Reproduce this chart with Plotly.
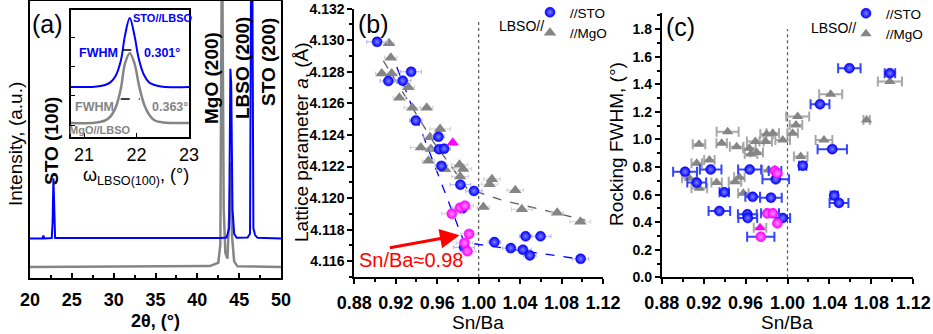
import plotly.graph_objects as go

W, H = 933, 334
def PX(x): return x / W
def PY(y): return 1 - y / H

FONT = "Liberation Sans, Arial, sans-serif"
BLUE = "#0000ff"
GRAY = "#858585"
MAG = "#ff00ff"

# ---------------- panel (a): XRD 2theta scans ----------------
xrd_sto_2theta = [20, 21.5, 21.6, 21.7, 22.6, 22.7, 22.8, 22.9, 23.0, 42.8, 43.5, 43.8, 43.95, 44.05,
                  44.2, 44.4, 44.7, 46.0, 46.3, 46.45, 46.55, 46.7, 46.9, 47.2, 50]
xrd_sto_int = [14.3, 14.3, 15.3, 14.3, 14.4, 20, 36, 18, 14.4, 14.4, 14.6, 18, 75.5, 70,
               25, 16, 14.5, 14.6, 16, 130, 130, 18, 15.5, 14.5, 14.3]
xrd_mgo_2theta = [20, 41.5, 42.5, 42.75, 42.95, 43.15, 43.35, 43.6, 43.85, 44.0, 44.15, 44.4, 44.8, 50]
xrd_mgo_int = [4, 4.3, 5.5, 12, 130, 25, 9, 7, 25, 41.7, 15, 6, 4.2, 4]

# inset: rocking curves
rock_omega_sto = [20.75, 21.2, 21.4, 21.5, 21.6, 21.7, 21.78, 21.87, 21.96, 22.04, 22.14, 22.24, 22.34, 22.5, 23.0]
rock_int_sto = [39.4, 39.6, 41, 43, 48, 60, 80, 93.7, 80, 62, 49, 43, 41, 39.6, 39.4]
rock_omega_mgo = [20.75, 21.2, 21.4, 21.5, 21.6, 21.7, 21.78, 21.87, 21.96, 22.05, 22.15, 22.25, 22.35, 22.5, 23.0]
rock_int_mgo = [11, 11.3, 13, 16, 23, 38, 58, 66, 58, 40, 25, 17, 13, 11.5, 11]
rock_center = 21.88
fwhm_sto, fwhm_mgo = 0.301, 0.363
fwhm_level_sto, fwhm_level_mgo = 68.5, 30

# ---------------- panel (b): lattice parameter ----------------
lat_sto_x = [0.902, 0.9348, 0.9129, 0.9267, 0.9393, 0.9612, 0.9618, 0.9667, 0.9641, 0.9824, 0.9955,
             0.9844, 0.986, 1.0152, 1.0310, 1.0427, 1.0453, 1.0494, 1.0597, 1.0984]
lat_sto_y = [4.1299, 4.1280, 4.12742, 4.12744, 4.12491, 4.12389, 4.12310, 4.12313, 4.12204, 4.12085, 4.12045,
             4.11935, 4.11688, 4.11721, 4.11683, 4.11673, 4.11758, 4.11637, 4.11758, 4.11615]
lat_sto_err = [0.01, 0.01, 0.008, 0.008, 0.006, 0.006, 0.008, 0.006, 0.006, 0.01, 0.008,
               0.008, 0.01, 0.006, 0.008, 0.008, 0.006, 0.006, 0.01, 0.008]
lat_mag_x = [0.9741, 0.9821, 0.9867, 0.9908, 0.9863, 0.9892]
lat_mag_y = [4.11901, 4.11939, 4.11952, 4.11773, 4.11716, 4.11663]
lat_mag_err = [0.01, 0.008, 0.008, 0.008, 0.008, 0.008]
lat_magtri_x = [0.975]
lat_magtri_y = [4.1235]
lat_mgo_x = [0.9135, 0.9152, 0.9065, 0.9161, 0.9322, 0.9235, 0.9360, 0.9499, 0.9628, 0.9531, 0.9442, 0.9538,
             0.9515, 0.9676, 0.9815, 0.9821, 0.9850, 1.0128, 1.0105, 1.0353, 1.0046, 1.0417, 1.0758, 1.0981]
lat_mgo_y = [4.12981, 4.12890, 4.12789, 4.12789, 4.12703, 4.12636, 4.12572, 4.12572, 4.12438, 4.12385, 4.12321, 4.12311,
             4.12236, 4.12183, 4.12211, 4.12137, 4.12185, 4.12120, 4.12088, 4.12050, 4.11943, 4.11929, 4.11907, 4.11850]
lat_mgo_err = [0.005, 0.006, 0.006, 0.006, 0.006, 0.006, 0.008, 0.006, 0.01, 0.006, 0.01, 0.008,
               0.006, 0.008, 0.008, 0.008, 0.008, 0.008, 0.008, 0.008, 0.006, 0.01, 0.006, 0.01]
fit_sto_x = [0.921, 0.986, 1.1013]
fit_sto_y = [4.1283, 4.1172, 4.1161]
fit_mgo_x = [0.908, 0.956, 0.989, 1.021, 1.103]
fit_mgo_y = [4.1287, 4.1236, 4.1206, 4.1199, 4.1186]
stoich = 1.00

# ---------------- panel (c): rocking FWHM ----------------
rc_sto_x = [0.9023, 0.9134, 0.9267, 0.9397, 0.9350, 0.9639, 0.9668, 0.9617, 0.9621, 0.9842, 0.9888,
            0.9955, 1.0145, 1.0310, 1.0427, 1.0446, 1.0491, 1.0590, 1.0977]
rc_sto_y = [0.766, 0.687, 0.782, 0.617, 0.481, 0.782, 0.584, 0.457, 0.430, 0.578, 0.711,
            0.430, 0.810, 1.256, 0.930, 0.593, 0.540, 1.517, 1.481]
rc_sto_err = [0.0114, 0.009, 0.0103, 0.0045, 0.0103, 0.011, 0.007, 0.009, 0.009, 0.0103, 0.0127,
              0.007, 0.0035, 0.009, 0.014, 0.0035, 0.009, 0.0107, 0.005]
rc_mag_x = [0.9881, 0.9903, 0.9808, 0.9859, 0.9903, 0.9745]
rc_mag_y = [0.771, 0.755, 0.464, 0.464, 0.392, 0.295]
rc_mag_err = [0.006, 0.0, 0.006, 0.006, 0.0, 0.013]
rc_magtri_x = [0.9738]
rc_magtri_y = [0.36]
rc_mgo_x = [0.9156, 0.9134, 0.9064, 0.9159, 0.9255, 0.9324, 0.9372, 0.9429, 0.9499, 0.9515, 0.9541, 0.9579,
            0.9636, 0.9652, 0.9693, 0.9706, 0.9792, 0.9801, 0.9820, 0.9859, 0.9954, 1.0049, 1.0081, 1.0097,
            1.0126, 1.0348, 1.0412, 1.0755, 1.0977]
rc_mgo_y = [0.965, 0.827, 0.719, 0.646, 0.852, 0.687, 0.973, 1.057, 0.694, 0.948, 0.726, 0.610,
            0.936, 0.895, 0.985, 0.905, 0.985, 1.040, 0.779, 1.045, 0.997, 1.045, 1.106, 1.166,
            0.876, 0.997, 1.328, 1.142, 1.420]
rc_mgo_err = [0.006, 0.005, 0.007, 0.0075, 0.005, 0.005, 0.005, 0.0105, 0.006, 0.0065, 0.005, 0.005,
              0.006, 0.006, 0.008, 0.006, 0.006, 0.006, 0.006, 0.006, 0.007, 0.005, 0.006, 0.011,
              0.0065, 0.008, 0.011, 0.003, 0.0115]

fig = go.Figure()

# ---- panel (a)
fig.add_trace(go.Scatter(x=xrd_mgo_2theta, y=xrd_mgo_int, mode="lines", line=dict(color=GRAY, width=2.5),
                         xaxis="x", yaxis="y", showlegend=False))
fig.add_trace(go.Scatter(x=xrd_sto_2theta, y=xrd_sto_int, mode="lines", line=dict(color=BLUE, width=2),
                         xaxis="x", yaxis="y", showlegend=False))
# inset
fig.add_trace(go.Scatter(x=rock_omega_mgo, y=rock_int_mgo, mode="lines", line=dict(color=GRAY, width=2.5, shape="spline"),
                         xaxis="x4", yaxis="y4", showlegend=False))
fig.add_trace(go.Scatter(x=rock_omega_sto, y=rock_int_sto, mode="lines", line=dict(color=BLUE, width=2, shape="spline"),
                         xaxis="x4", yaxis="y4", showlegend=False))
fig.add_trace(go.Scatter(x=[rock_center - fwhm_sto / 2, rock_center + fwhm_sto / 2], y=[fwhm_level_sto] * 2,
                         mode="lines", line=dict(color="black", width=1.5, dash="dash"),
                         xaxis="x4", yaxis="y4", showlegend=False))
fig.add_trace(go.Scatter(x=[rock_center - fwhm_mgo / 2, rock_center + fwhm_mgo / 2], y=[fwhm_level_mgo] * 2,
                         mode="lines", line=dict(color="black", width=1.5, dash="dash"),
                         xaxis="x4", yaxis="y4", showlegend=False))

sphere = lambda c, hc, s: dict(color=c, size=s, gradient=dict(type="radial", color=hc), line=dict(width=0.5, color=c))
tri = lambda c, s: dict(color=c, size=s, symbol="triangle-up", line=dict(width=0))

# ---- panel (b)
fig.add_trace(go.Scatter(x=fit_mgo_x, y=fit_mgo_y, mode="lines", line=dict(color="#606060", width=1.3, dash="dash"),
                         xaxis="x2", yaxis="y2", showlegend=False))
fig.add_trace(go.Scatter(x=fit_sto_x, y=fit_sto_y, mode="lines", line=dict(color=BLUE, width=1.3, dash="dash"),
                         xaxis="x2", yaxis="y2", showlegend=False))
fig.add_trace(go.Scatter(x=lat_mgo_x, y=lat_mgo_y, mode="markers", marker=tri(GRAY, 11),
                         error_x=dict(type="data", array=lat_mgo_err, color="#d0d0d0", thickness=1, width=2),
                         xaxis="x2", yaxis="y2", name="//MgO", legend="legend", legendrank=2))
fig.add_trace(go.Scatter(x=lat_sto_x, y=lat_sto_y, mode="markers", marker=sphere(BLUE, "#8080ff", 10),
                         error_x=dict(type="data", array=lat_sto_err, color="#b0b0f0", thickness=1, width=2),
                         xaxis="x2", yaxis="y2", name="//STO", legend="legend", legendrank=1))
fig.add_trace(go.Scatter(x=lat_mag_x, y=lat_mag_y, mode="markers", marker=sphere(MAG, "#ff90ff", 10),
                         error_x=dict(type="data", array=lat_mag_err, color="#c8c8f0", thickness=1, width=2),
                         xaxis="x2", yaxis="y2", showlegend=False))
fig.add_trace(go.Scatter(x=lat_magtri_x, y=lat_magtri_y, mode="markers", marker=tri(MAG, 11),
                         xaxis="x2", yaxis="y2", showlegend=False))

# ---- panel (c)
fig.add_trace(go.Scatter(x=rc_mgo_x, y=rc_mgo_y, mode="markers", marker=tri(GRAY, 10),
                         error_x=dict(type="data", array=rc_mgo_err, color="#a8a8a8", thickness=2, width=5),
                         xaxis="x3", yaxis="y3", name="//MgO", legend="legend2", legendrank=2))
fig.add_trace(go.Scatter(x=rc_sto_x, y=rc_sto_y, mode="markers", marker=sphere(BLUE, "#8080ff", 10),
                         error_x=dict(type="data", array=rc_sto_err, color="#3344ff", thickness=2, width=5),
                         xaxis="x3", yaxis="y3", name="//STO", legend="legend2", legendrank=1))
fig.add_trace(go.Scatter(x=rc_magtri_x, y=rc_magtri_y, mode="markers", marker=tri(MAG, 10),
                         error_x=dict(type="data", array=[0.006], color="#a8a8a8", thickness=2, width=5),
                         xaxis="x3", yaxis="y3", showlegend=False))
fig.add_trace(go.Scatter(x=rc_mag_x, y=rc_mag_y, mode="markers", marker=sphere(MAG, "#ff90ff", 10),
                         error_x=dict(type="data", array=rc_mag_err, color="#3344ff", thickness=2, width=5),
                         xaxis="x3", yaxis="y3", showlegend=False))

tickx = dict(family=FONT, size=18, color="black", weight="bold")
ticky = dict(family=FONT, size=14, color="black", weight="bold")
axline = dict(showline=True, linecolor="black", linewidth=1.8, showgrid=False, zeroline=False, automargin=False)

layout = dict(
    width=W, height=H, margin=dict(l=0, r=0, t=0, b=0, autoexpand=False),
    paper_bgcolor="white", plot_bgcolor="rgba(0,0,0,0)",
    font=dict(family=FONT, color="black"),
    xaxis=dict(domain=[PX(30), PX(281)], range=[20, 50], anchor="y", dtick=5, tick0=20, ticks="inside", ticklen=5,
               tickwidth=1.5, tickcolor="black", mirror=True, tickfont=tickx, ticklabelstandoff=4,
               minor=dict(dtick=2.5, ticks="inside", ticklen=3, tickcolor="black"), **axline),
    yaxis=dict(domain=[PY(278), PY(1)], range=[0, 100], anchor="x", showticklabels=False, ticks="",
               mirror=True, **axline),
    xaxis2=dict(domain=[PX(354.3), PX(603)], range=[0.88, 1.12], anchor="y2", dtick=0.04, tick0=0.88,
                tickformat=".2f", ticks="outside", ticklen=5, tickwidth=1.5, tickcolor="black", tickfont=tickx,
                ticklabelstandoff=3,
                minor=dict(dtick=0.02, ticks="outside", ticklen=3, tickcolor="black"), **axline),
    yaxis2=dict(domain=[PY(277), PY(8.7)], range=[4.115, 4.132], anchor="x2", dtick=0.002, tick0=4.116,
                tickformat=".3f", ticks="outside", ticklen=5, tickwidth=1.5, tickcolor="black", tickfont=ticky,
                minor=dict(dtick=0.001, ticks="outside", ticklen=3, tickcolor="black"), **axline),
    xaxis3=dict(domain=[PX(661.7), PX(913.3)], range=[0.88, 1.12], anchor="y3", dtick=0.04, tick0=0.88,
                tickformat=".2f", ticks="outside", ticklen=5, tickwidth=1.5, tickcolor="black", tickfont=tickx,
                ticklabelstandoff=3,
                minor=dict(dtick=0.02, ticks="outside", ticklen=3, tickcolor="black"), **axline),
    yaxis3=dict(domain=[PY(277.3), PY(12.7)], range=[0, 1.92], anchor="x3", dtick=0.2, tick0=0,
                tickformat=".1f", ticks="outside", ticklen=5, tickwidth=1.5, tickcolor="black", tickfont=ticky,
                minor=dict(dtick=0.1, ticks="outside", ticklen=3, tickcolor="black"), **axline),
    xaxis4=dict(domain=[PX(71), PX(189)], range=[20.75, 23], anchor="y4", dtick=1, tick0=21, ticks="inside",
                ticklen=4, tickcolor="black", mirror=True,
                tickfont=dict(family=FONT, size=18, color="black"), **axline),
    yaxis4=dict(domain=[PY(137), PY(10)], range=[0, 100], anchor="x4", showticklabels=False, ticks="inside",
                ticklen=4, tick0=9.4, dtick=23, tickcolor="black", mirror=True, **axline),
    legend=dict(x=PX(530), y=PY(-3), xanchor="left", yanchor="top", bgcolor="rgba(0,0,0,0)",
                font=dict(family=FONT, size=13.5, color="black"), itemwidth=30, tracegroupgap=0),
    legend2=dict(x=PX(846), y=PY(-2), xanchor="left", yanchor="top", bgcolor="rgba(0,0,0,0)",
                 font=dict(family=FONT, size=13.5, color="black"), itemwidth=30, tracegroupgap=0),
)
fig.update_layout(**layout)

ann = []
def A(text, x, y, size, color="black", bold=False, angle=0, family=FONT):
    ann.append(dict(text=text, x=PX(x), y=PY(y), xref="paper", yref="paper", showarrow=False,
                    xanchor="center", yanchor="middle", textangle=angle,
                    font=dict(family=family, size=size, color=color, weight="bold" if bold else "normal")))

# panel labels
A("(a)", 47, 24, 25)
A("(b)", 373, 24, 25)
A("(c)", 680, 27, 25)
# peak labels
A("STO (100)", 52, 141, 19, bold=True, angle=-90)
A("MgO (200)", 212, 78, 19, bold=True, angle=-90)
A("LBSO (200)", 242, 68, 19, bold=True, angle=-90)
A("STO (200)", 268, 62, 19, bold=True, angle=-90)
# inset labels
A("STO//LBSO", 162.5, 18, 11, color=BLUE, bold=True)
A("FWHM", 98, 53, 12.5, color=BLUE, bold=True)
A("0.301°", 162, 53, 12.5, color=BLUE, bold=True)
A("FWHM", 94, 107, 12.5, color=GRAY, bold=True)
A("0.363°", 170, 107, 12.5, color=GRAY, bold=True)
A("MgO//LBSO", 99.5, 130, 11, color=GRAY, bold=True)
A("ω<sub>LBSO(100)</sub>, (°)", 136, 176, 18)
# axis titles
A("2θ, (°)", 155, 321, 18, bold=True)
A("Sn/Ba", 478.3, 322, 19)
A("Sn/Ba", 786.7, 322, 19)
A("Intensity, (a.u.)", 15, 144, 19, angle=-90)
A("Lattice parameter <i>a</i>, (Å)", 301, 142, 19, angle=-90)
A("Rocking FWHM, (°)", 616, 144, 19, angle=-90)
# legend group labels
A("LBSO//", 521, 26, 14)
A("LBSO//", 833, 28, 14)
# red arrow
A("Sn/Ba≈0.98", 411, 260, 20, color="red")
ann.append(dict(x=0.9815, y=4.11765, ax=0.9129, ay=4.11684, xref="x2", yref="y2", axref="x2", ayref="y2",
                showarrow=True, arrowhead=2, arrowsize=1.3, arrowwidth=3, arrowcolor="red", text=""))
fig.update_layout(annotations=ann)

# dotted reference line at stoichiometric Sn/Ba
fig.add_shape(type="line", x0=stoich, x1=stoich, y0=4.115, y1=4.1313, xref="x2", yref="y2",
              line=dict(color="#555555", width=1.2, dash="dot"), layer="below")
fig.add_shape(type="line", x0=stoich, x1=stoich, y0=0, y1=1.8, xref="x3", yref="y3",
              line=dict(color="#555555", width=1.2, dash="dot"), layer="below")

fig.write_html("out.html")
